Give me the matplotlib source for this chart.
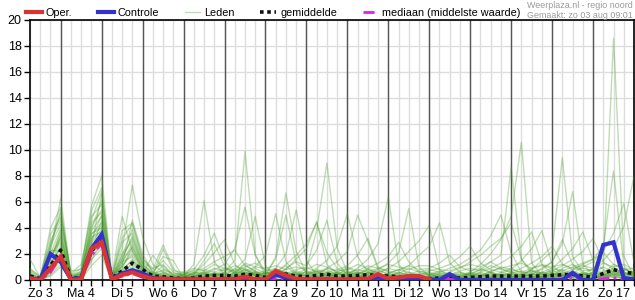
import numpy as np
import matplotlib
matplotlib.use("Agg")
import matplotlib.pyplot as plt
from matplotlib.lines import Line2D

plt.rcParams['font.family'] = ['Liberation Sans', 'DejaVu Sans']

# uren sinds zo 3 aug 00:00, elke 6 uur een waarde
uren = np.arange(6, 361, 6)
dagen = ["Zo 3", "Ma 4", "Di 5", "Wo 6", "Do 7", "Vr 8", "Za 9", "Zo 10",
         "Ma 11", "Di 12", "Wo 13", "Do 14", "Vr 15", "Za 16", "Zo 17"]

# neerslag (mm per 6 uur)
oper = [0.1, 0.0, 0.9, 1.8, 0.0, 0.05, 2.4, 2.9, 0.05, 0.4, 0.6, 0.3, 0.1, 0.1, 0.05,
        0.05, 0.05, 0.05, 0.05, 0.05, 0.05, 0.25, 0.05, 0.05, 0.7, 0.35, 0.1,
        0.05, 0.05, 0.05, 0.05, 0.05, 0.05, 0.1, 0.45, 0.1, 0.2, 0.3, 0.3,
        0.05]

controle = [0.1, 0.0, 2.0, 1.4, 0.05, 0.15, 2.4, 3.5, 0.1, 0.5, 0.75, 0.5, 0.15, 0.1, 0.05,
            0.05, 0.05, 0.0, 0.0, 0.05, 0.05, 0.2, 0.05, 0.0, 0.4, 0.2, 0.05,
            0.0, 0.0, 0.05, 0.0, 0.0, 0.05, 0.05, 0.2, 0.05, 0.1, 0.1, 0.05,
            0.05, 0.0, 0.45, 0.0, 0.0, 0.0, 0.0, 0.0, 0.0, 0.0, 0.0, 0.0, 0.0, 0.0, 0.55, 0.0,
            0.0, 2.7, 2.9, 0.15, 0.05]

gemiddelde = [0.3, 0.1, 1.1, 2.3, 0.1, 0.2, 2.2, 3.2, 0.15, 0.7, 1.3, 0.8, 0.3, 0.25, 0.15,
              0.1, 0.15, 0.3, 0.35, 0.35, 0.3, 0.45, 0.35, 0.2, 0.4, 0.45, 0.3,
              0.25, 0.35, 0.45, 0.3, 0.3, 0.35, 0.4, 0.35, 0.3, 0.25, 0.2, 0.15,
              0.1, 0.15, 0.2, 0.15, 0.2, 0.25, 0.3, 0.3, 0.3, 0.3, 0.3, 0.3, 0.35, 0.4, 0.45, 0.3,
              0.2, 0.5, 0.8, 0.6, 0.5]

mediaan = [0.2, 0.0, 0.6, 1.8, 0.05, 0.1, 1.9, 2.8, 0.05, 0.3, 0.5, 0.2, 0.05, 0.05, 0.0,
           0.0, 0.0, 0.05, 0.05, 0.05, 0.0, 0.1, 0.05, 0.0, 0.1, 0.1, 0.05,
           0.0, 0.05, 0.1, 0.05, 0.0, 0.05, 0.05, 0.1, 0.05, 0.05, 0.05, 0.0,
           0.0, 0.0, 0.05, 0.0, 0.0, 0.05, 0.05, 0.05, 0.05, 0.05, 0.05, 0.05, 0.05, 0.1, 0.1, 0.05,
           0.0, 0.1, 0.15, 0.1, 0.05]

leden = [
    [0.2, 0.0, 1.2, 2.5, 0.1, 0.3, 3.1, 4.2, 0.0, 0.8, 1.5, 0.6, 0.2, 0.4, 0.1,
     0.1, 0.3, 0.2, 0.4, 0.6, 1.5, 9.9, 2.0, 0.3, 0.2, 0.5, 0.1,
     0.0, 0.2, 0.4, 0.1, 0.0, 0.3, 0.2, 0.1, 0.2, 0.1, 0.0, 0.1,
     0.0, 0.1, 0.0, 0.2, 0.1, 0.3, 0.2, 0.1, 0.0, 0.2, 0.1, 0.3, 0.1, 0.4, 0.2, 0.0,
     0.2, 0.1, 0.5, 0.3, 0.1],
    [0.4, 0.1, 2.2, 6.3, 0.3, 0.5, 4.4, 5.2, 0.1, 1.6, 3.4, 1.1, 0.5, 0.3, 0.2,
     0.0, 0.1, 0.5, 0.2, 0.1, 0.4, 0.8, 0.3, 0.2, 0.6, 1.1, 0.4,
     0.9, 3.8, 9.0, 2.5, 0.6, 0.2, 0.4, 0.1, 0.0, 0.2, 0.3, 0.1,
     0.1, 0.0, 0.2, 0.4, 0.3, 0.1, 0.0, 0.2, 0.1, 0.3, 0.5, 0.2, 0.0, 0.1, 0.3, 0.2,
     0.1, 0.4, 0.2, 0.1, 0.0],
    [0.0, 0.0, 0.6, 1.8, 0.0, 0.2, 2.0, 3.0, 0.2, 0.4, 0.9, 0.3, 0.1, 0.1, 0.0,
     0.2, 0.0, 0.1, 0.3, 0.2, 0.1, 0.6, 0.4, 0.1, 0.3, 0.2, 0.0,
     0.1, 0.5, 0.3, 0.2, 0.4, 0.6, 0.3, 0.1, 0.2, 0.4, 0.1, 0.0,
     0.3, 0.2, 0.5, 0.1, 0.6, 1.2, 2.0, 3.1, 4.9, 10.6, 1.3, 0.4, 0.2, 0.5, 0.3, 0.1,
     0.0, 0.3, 1.0, 0.4, 0.2],
    [1.6, 0.2, 3.5, 4.8, 0.4, 0.9, 5.7, 8.0, 0.3, 4.9, 2.2, 0.9, 0.4, 1.1, 0.3,
     0.4, 0.2, 0.3, 0.0, 0.1, 0.3, 0.2, 0.5, 0.0, 0.4, 0.6, 0.2,
     0.1, 0.0, 0.3, 0.5, 0.2, 0.1, 0.6, 0.3, 0.1, 0.3, 0.2, 0.0,
     0.2, 0.4, 0.1, 0.0, 0.2, 0.1, 0.3, 0.4, 0.5, 0.2, 0.1, 0.6, 0.3, 0.9, 1.2, 0.5,
     0.4, 1.0, 18.6, 1.8, 0.3],
    [0.1, 0.0, 0.9, 3.4, 0.1, 0.2, 2.6, 6.6, 0.1, 1.1, 4.6, 2.0, 0.6, 0.3, 0.2,
     0.1, 0.2, 0.0, 0.1, 0.3, 0.5, 0.2, 0.1, 0.2, 0.1, 0.4, 0.6,
     0.3, 0.2, 0.1, 0.0, 0.1, 0.4, 0.8, 0.5, 0.3, 0.1, 0.2, 0.4,
     0.1, 0.0, 0.3, 0.2, 0.4, 0.6, 0.3, 0.2, 0.1, 0.3, 0.8, 1.5, 2.2, 9.4, 1.8, 0.6,
     0.3, 0.2, 0.4, 0.1, 0.2],
    [0.3, 0.1, 1.8, 2.9, 0.2, 0.6, 3.8, 4.9, 0.1, 2.4, 7.3, 3.3, 1.2, 0.6, 0.2,
     0.0, 0.4, 0.6, 0.3, 0.5, 0.2, 0.4, 0.1, 0.3, 0.0, 0.2, 0.4,
     0.2, 0.6, 0.4, 0.3, 0.1, 0.2, 0.0, 0.3, 0.5, 0.2, 0.1, 0.3,
     0.0, 0.2, 0.4, 0.3, 0.5, 0.8, 1.4, 1.9, 8.7, 1.6, 0.5, 0.2, 0.4, 0.1, 0.3, 0.5,
     0.2, 0.1, 0.6, 0.2, 0.1],
    [0.0, 0.0, 0.4, 1.2, 0.0, 0.1, 1.6, 2.4, 0.0, 0.3, 0.7, 0.2, 0.1, 0.2, 0.1,
     0.3, 1.2, 6.1, 1.4, 0.4, 0.2, 0.3, 0.6, 0.2, 0.4, 0.1, 0.2,
     0.0, 0.3, 0.5, 0.2, 0.3, 0.1, 0.2, 0.4, 0.2, 0.0, 0.3, 0.1,
     0.4, 0.2, 0.1, 0.0, 0.1, 0.2, 0.5, 0.3, 0.2, 0.4, 0.3, 0.1, 0.5, 0.3, 0.6, 0.4,
     0.9, 1.5, 2.4, 4.1, 8.0],
    [0.8, 0.3, 2.8, 5.1, 0.5, 1.2, 4.9, 5.8, 0.2, 1.9, 3.9, 1.4, 0.8, 2.7, 0.9,
     0.2, 0.1, 0.3, 0.5, 0.2, 0.6, 0.9, 0.4, 0.3, 1.8, 6.7, 2.2,
     0.5, 0.2, 0.3, 0.6, 0.4, 0.9, 1.6, 2.8, 6.4, 1.2, 0.3, 0.1,
     0.2, 0.5, 0.3, 0.1, 0.0, 0.3, 0.4, 0.2, 0.3, 0.1, 0.2, 0.5, 0.2, 0.4, 0.1, 0.3,
     0.6, 0.3, 0.2, 0.5, 0.3],
    [0.2, 0.0, 1.4, 3.8, 0.2, 0.4, 3.3, 3.7, 0.1, 0.9, 2.6, 0.8, 0.3, 0.5, 0.3,
     0.1, 0.3, 0.4, 0.8, 1.2, 2.4, 5.6, 1.9, 0.6, 0.3, 0.2, 0.4,
     0.2, 0.1, 0.6, 0.3, 0.5, 0.3, 0.1, 0.2, 0.3, 0.5, 0.2, 0.4,
     0.1, 0.3, 0.2, 0.0, 0.2, 0.4, 0.6, 0.3, 0.5, 0.2, 0.4, 0.9, 1.4, 2.8, 6.8, 1.2,
     0.4, 0.2, 0.8, 0.3, 0.1],
    [0.5, 0.1, 4.0, 5.6, 0.1, 0.3, 2.2, 4.6, 0.0, 1.4, 1.8, 0.5, 1.9, 0.9, 0.4,
     0.4, 0.2, 0.6, 0.3, 0.5, 0.8, 1.6, 4.9, 1.1, 0.3, 0.5, 0.2,
     0.4, 0.7, 0.3, 0.1, 0.2, 0.5, 0.4, 0.8, 1.3, 2.1, 5.5, 1.0,
     0.3, 0.1, 0.4, 0.2, 0.1, 0.0, 0.2, 0.6, 0.4, 0.3, 0.1, 0.2, 0.3, 0.6, 0.4, 0.2,
     0.1, 0.4, 0.3, 0.9, 0.4],
    [0.1, 0.0, 0.7, 2.1, 0.0, 0.1, 1.4, 3.3, 0.3, 0.6, 1.2, 0.4, 0.2, 0.1, 0.0,
     0.2, 0.5, 0.3, 0.1, 0.3, 0.4, 0.7, 1.0, 1.9, 5.1, 1.4, 0.5,
     0.3, 0.2, 0.4, 0.6, 0.1, 0.3, 0.5, 0.2, 0.4, 0.2, 0.1, 0.3,
     0.2, 0.0, 0.3, 0.5, 0.4, 0.2, 0.1, 0.3, 0.6, 0.4, 0.2, 0.3, 0.1, 0.5, 0.8, 1.2,
     1.6, 2.6, 8.4, 1.1, 0.2],
    [0.3, 0.2, 2.6, 4.3, 0.7, 0.8, 5.3, 7.1, 0.2, 3.2, 4.3, 1.7, 0.6, 1.5, 0.6,
     0.3, 0.1, 0.2, 0.4, 0.8, 0.5, 1.2, 0.6, 0.4, 0.9, 2.0, 5.4,
     1.5, 0.4, 0.2, 0.5, 0.3, 0.2, 0.4, 0.1, 0.2, 0.6, 0.3, 0.5,
     0.4, 0.6, 0.9, 1.2, 1.7, 2.3, 3.4, 5.0, 2.1, 0.6, 0.3, 0.2, 0.5, 0.2, 0.4, 0.3,
     0.2, 0.5, 0.3, 0.1, 0.0],
    [0.0, 0.0, 0.3, 1.0, 0.1, 0.0, 1.1, 1.9, 0.0, 0.2, 0.5, 0.2, 0.0, 0.1, 0.0,
     0.0, 0.3, 0.5, 0.2, 0.6, 0.3, 0.5, 0.9, 0.5, 1.6, 5.0, 1.3,
     0.6, 0.3, 0.1, 0.4, 0.6, 0.4, 0.2, 0.3, 0.1, 0.3, 0.4, 0.2,
     0.5, 0.3, 0.2, 0.1, 0.3, 0.5, 0.2, 0.4, 0.2, 0.5, 0.7, 0.4, 0.8, 0.3, 0.5, 1.0,
     1.4, 2.2, 3.6, 5.9, 1.3],
    [0.6, 0.1, 1.9, 3.1, 0.2, 0.5, 3.9, 6.1, 0.1, 2.0, 3.0, 1.0, 0.4, 0.8, 0.5,
     0.5, 0.3, 0.2, 0.6, 0.3, 0.9, 0.4, 0.6, 0.2, 0.5, 0.8, 1.6,
     2.4, 4.5, 1.2, 0.5, 0.3, 0.6, 0.4, 0.2, 0.5, 0.8, 1.1, 1.9,
     2.6, 4.4, 1.3, 0.6, 0.3, 0.2, 0.5, 0.1, 0.2, 0.4, 0.3, 0.6, 0.4, 0.7, 0.2, 0.5,
     0.3, 0.6, 0.4, 0.2, 0.5],
    [0.2, 0.1, 1.1, 2.7, 0.1, 0.3, 2.9, 3.9, 0.4, 1.0, 2.3, 0.6, 0.3, 0.4, 0.2,
     0.2, 0.6, 0.4, 0.3, 0.1, 0.5, 0.3, 0.2, 0.5, 0.3, 0.9, 1.4,
     1.1, 2.3, 4.6, 1.3, 0.4, 0.2, 0.6, 0.5, 0.9, 1.4, 2.2, 3.0,
     4.2, 0.8, 0.3, 0.2, 0.5, 0.3, 0.6, 0.4, 0.3, 0.2, 0.5, 0.3, 0.6, 0.3, 0.7, 0.4,
     0.5, 0.3, 0.9, 0.6, 0.4],
    [0.9, 0.2, 3.0, 4.6, 0.3, 0.7, 4.1, 5.4, 0.2, 2.9, 3.6, 1.3, 0.5, 1.8, 1.5,
     0.1, 0.4, 0.2, 0.5, 0.4, 0.2, 0.6, 0.3, 0.6, 0.4, 0.3, 0.7,
     0.5, 0.9, 1.5, 2.6, 5.1, 1.8, 0.6, 0.3, 0.2, 0.4, 0.6, 0.3,
     0.1, 0.3, 0.5, 0.4, 0.6, 0.4, 0.2, 0.5, 0.8, 1.5, 2.4, 3.8, 1.2, 0.4, 0.2, 0.6,
     0.4, 0.7, 0.5, 0.3, 0.6],
    [0.1, 0.0, 1.6, 3.6, 0.1, 0.2, 2.4, 2.9, 0.1, 0.5, 1.0, 0.3, 0.1, 0.3, 0.1,
     0.3, 0.2, 0.7, 0.4, 0.2, 0.6, 0.5, 0.4, 0.3, 0.6, 0.4, 0.2,
     0.7, 0.4, 0.9, 1.4, 2.2, 5.0, 3.0, 0.8, 0.4, 0.2, 0.5, 0.3,
     0.6, 0.4, 0.2, 0.3, 0.2, 0.6, 0.9, 1.3, 1.8, 2.6, 3.7, 1.2, 0.5, 0.3, 0.6, 0.2,
     0.4, 0.2, 0.6, 0.5, 0.3],
    [0.4, 0.0, 2.3, 2.2, 0.2, 0.4, 3.5, 4.4, 0.0, 1.3, 2.8, 0.9, 0.3, 0.6, 0.3,
     0.4, 0.8, 1.9, 3.6, 1.5, 0.6, 0.4, 0.7, 0.2, 0.5, 0.6, 0.3,
     0.4, 0.2, 0.6, 0.8, 1.1, 1.9, 3.2, 1.0, 0.6, 0.3, 0.4, 0.2,
     0.3, 0.5, 0.4, 0.6, 0.4, 0.8, 0.6, 0.3, 0.5, 0.7, 0.4, 0.6, 0.9, 1.6, 2.4, 3.7,
     1.5, 0.8, 0.4, 0.6, 0.2],
    [0.0, 0.0, 0.5, 1.5, 0.0, 0.1, 1.8, 2.6, 0.1, 0.7, 1.6, 0.4, 0.2, 0.2, 0.1,
     0.3, 0.5, 1.2, 2.1, 3.1, 1.2, 0.5, 0.3, 0.6, 0.4, 0.2, 0.5,
     0.3, 0.7, 0.5, 0.2, 0.6, 0.4, 0.8, 0.5, 0.3, 0.6, 0.4, 0.7,
     0.5, 0.2, 0.6, 0.9, 1.4, 1.9, 2.6, 3.2, 4.4, 1.6, 0.7, 0.4, 0.6, 0.8, 0.5, 0.3,
     0.6, 0.4, 0.7, 0.5, 0.4],
    [0.7, 0.2, 2.0, 4.0, 0.4, 0.6, 4.6, 6.8, 0.2, 3.8, 4.4, 1.6, 0.9, 1.2, 0.4,
     0.6, 0.4, 1.5, 2.8, 1.1, 0.5, 0.8, 0.4, 0.5, 0.7, 0.3, 0.6,
     0.4, 0.8, 0.6, 0.5, 0.7, 0.5, 0.9, 1.3, 1.8, 2.9, 1.4, 0.6,
     0.4, 0.7, 0.5, 0.3, 0.5, 0.3, 0.7, 0.9, 0.6, 0.4, 0.8, 0.5, 0.7, 1.1, 1.6, 2.2,
     3.2, 1.4, 0.8, 0.5, 0.7],
    [0.2, 0.1, 1.3, 2.4, 0.1, 0.3, 2.7, 3.5, 0.1, 1.1, 2.0, 0.7, 0.4, 0.5, 0.2,
     0.5, 0.7, 0.9, 1.4, 1.8, 2.3, 1.1, 0.7, 0.4, 0.8, 0.6, 0.4,
     0.6, 0.5, 0.8, 0.4, 0.9, 0.6, 0.5, 0.7, 0.5, 0.8, 0.6, 0.4,
     0.7, 0.9, 1.2, 1.8, 2.6, 1.3, 0.8, 0.6, 0.9, 0.5, 0.6, 0.8, 1.4, 3.1, 1.2, 0.7,
     0.8, 0.5, 1.2, 0.9, 0.5],
    [0.3, 0.0, 2.5, 5.4, 0.2, 0.5, 3.6, 4.0, 0.1, 1.7, 3.2, 1.2, 0.5, 0.7, 0.3,
     0.2, 0.5, 0.8, 0.6, 0.9, 0.7, 1.0, 1.3, 0.8, 0.6, 1.2, 1.9,
     2.8, 4.4, 2.1, 0.9, 0.5, 0.8, 0.6, 0.9, 0.7, 0.5, 0.9, 0.6,
     0.8, 0.6, 0.4, 0.7, 0.9, 0.7, 1.1, 0.8, 0.6, 0.9, 1.3, 1.8, 2.6, 1.2, 0.8, 0.9,
     0.7, 1.0, 0.6, 0.8, 0.6],
    [0.1, 0.0, 0.8, 1.9, 0.0, 0.2, 2.1, 3.1, 0.0, 0.6, 1.3, 0.5, 0.2, 0.3, 0.1,
     0.4, 0.6, 0.5, 0.9, 0.7, 1.1, 0.8, 0.5, 0.7, 0.9, 0.5, 0.8,
     1.0, 0.6, 0.9, 0.7, 0.8, 1.2, 0.9, 0.6, 0.9, 0.7, 1.1, 0.8,
     0.9, 1.3, 1.9, 1.0, 0.7, 0.9, 0.6, 1.0, 0.8, 0.6, 0.9, 1.1, 0.9, 0.7, 1.0, 1.3,
     1.6, 2.1, 1.2, 0.8, 0.9],
    [0.5, 0.1, 1.7, 3.3, 0.3, 0.4, 3.1, 5.0, 0.1, 1.5, 2.5, 0.8, 0.4, 2.4, 0.7,
     0.6, 0.9, 0.7, 1.2, 0.9, 0.6, 1.3, 1.0, 0.9, 1.1, 0.8, 1.0,
     0.8, 1.2, 1.0, 0.6, 1.0, 0.7, 1.1, 0.9, 1.2, 1.0, 0.8, 1.1,
     1.1, 0.8, 0.7, 1.0, 1.2, 1.0, 1.4, 0.9, 1.1, 1.3, 0.9, 1.2, 1.0, 1.2, 0.9, 1.1,
     0.9, 1.3, 1.0, 1.2, 0.8],
]

fig = plt.figure(figsize=(6.35, 3.0), dpi=100)
ax = fig.add_axes([30 / 635, 20 / 300, 604 / 635, 260 / 300])

for lid in leden:
    ax.plot(uren, lid, color='#4a9e2a', lw=1, alpha=0.35, zorder=3)
ax.plot(uren, gemiddelde, color='#111111', lw=2.6, ls=(0, (1, 1)), zorder=4)
ax.plot(uren, mediaan, color='#dd22dd', lw=2, ls=(0, (4, 1.5, 1, 1.5)), zorder=4)
ax.plot(uren, controle, color='#3333cc', lw=3, zorder=5, solid_joinstyle='miter')
ax.plot(uren[:len(oper)], oper, color='#d93333', lw=3, zorder=6, solid_joinstyle='miter')

# dag-scheidingen
for d in range(24, 360, 24):
    ax.axvline(d, color='#555555', lw=1.0, zorder=2)

ax.set_xlim(6, 360)
ax.set_ylim(0, 20)
ax.set_yticks(range(0, 21, 2))
ax.set_xticks(uren)
labels = []
for u in uren:
    if u % 24 == 12:
        labels.append(dagen[u // 24])
    else:
        labels.append("")
ax.set_xticklabels(labels)
ax.grid(color='#dddddd', lw=1, zorder=0)
ax.set_axisbelow(True)
ax.tick_params(axis='both', direction='out', length=4, width=1, labelsize=9, pad=2)
for s in ax.spines.values():
    s.set_linewidth(1.2)
    s.set_color('black')

handles = [Line2D([], [], color='#d93333', lw=3),
           Line2D([], [], color='#3333cc', lw=3),
           Line2D([], [], color='#4a9e2a', lw=1, alpha=0.35),
           Line2D([], [], color='#111111', lw=2.6, ls=(0, (1, 1))),
           Line2D([], [], color='#dd22dd', lw=2, ls=(0, (4, 1.5, 1, 1.5)))]
names = ["Oper.", "Controle", "Leden", "gemiddelde", "mediaan (middelste waarde)"]
fig.legend(handles, names, loc='center left', bbox_to_anchor=(26 / 635, 1 - 13 / 300),
           ncol=5, frameon=False, fontsize=7.8, handlelength=1.45, handletextpad=0.38,
           columnspacing=2.35, borderpad=0, borderaxespad=0)

fig.text(633 / 635, 1 - 5 / 300, "Weerplaza.nl - regio noord", ha='right', va='center',
         fontsize=6.4, color='#999999')
fig.text(633 / 635, 1 - 15 / 300, "Gemaakt: zo 03 aug 09:01", ha='right', va='center',
         fontsize=6.4, color='#999999')

fig.savefig('out.png', dpi=100)
